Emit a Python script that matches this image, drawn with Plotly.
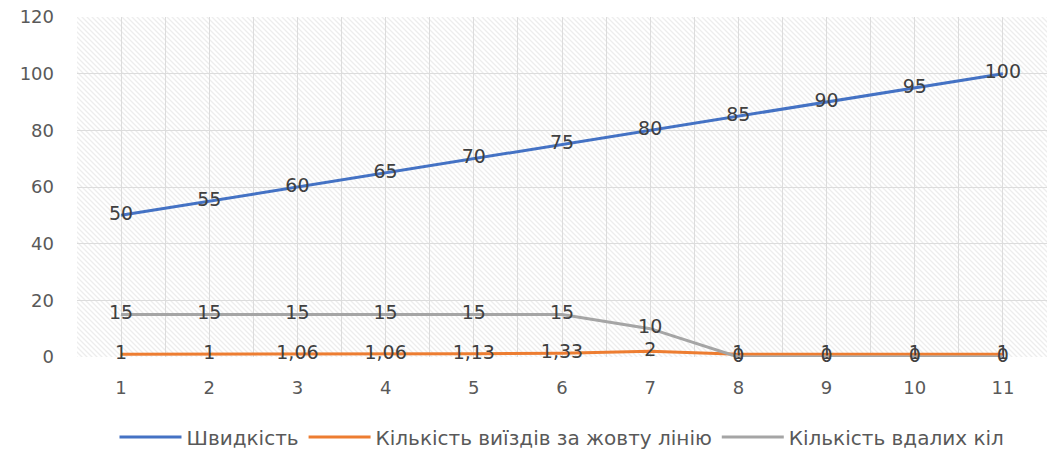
import base64
import plotly.graph_objects as go

categories = [1, 2, 3, 4, 5, 6, 7, 8, 9, 10, 11]
speed = [50, 55, 60, 65, 70, 75, 80, 85, 90, 95, 100]
yellow_exits = [1, 1, 1.06, 1.06, 1.13, 1.33, 2, 1, 1, 1, 1]
good_laps = [15, 15, 15, 15, 15, 15, 10, 0, 0, 0, 0]
y_ticks = [0, 20, 40, 60, 80, 100, 120]

names = ["Швидкість", "Кількість виїздів за жовту лінію", "Кількість вдалих кіл"]
colors = ["#4472C4", "#ED7D31", "#A5A5A5"]

def fmt(v):
    return ("%g" % v).replace(".", ",")

W, H = 1050, 453
ML, MR, MT, MB = 77, 3, 17, 96
PW, PH = W - ML - MR, H - MT - MB

# diagonal hatch pattern for plot area (drawn beneath gridlines)
svg = (
    f'<svg xmlns="http://www.w3.org/2000/svg" width="{PW}" height="{PH}" '
    f'viewBox="0 0 {PW} {PH}" preserveAspectRatio="none">'
    '<defs><pattern id="p" width="5" height="5" patternUnits="userSpaceOnUse">'
    '<path d="M-1,-1 L6,6 M-1,4 L1,6 M4,-1 L6,1" stroke="#EDEDED" stroke-width="1.3"/>'
    '</pattern></defs>'
    f'<rect width="{PW}" height="{PH}" fill="#FFFFFF"/>'
    f'<rect width="{PW}" height="{PH}" fill="url(#p)"/></svg>'
)
svg_uri = "data:image/svg+xml;base64," + base64.b64encode(svg.encode()).decode()

fig = go.Figure()

label_font = dict(family="DejaVu Sans, sans-serif", size=19, color="#404040")

for vals, name, col in [(speed, names[0], colors[0]),
                        (yellow_exits, names[1], colors[1]),
                        (good_laps, names[2], colors[2])]:
    fig.add_trace(go.Scatter(
        x=categories, y=vals, name=name, mode="lines+text",
        line=dict(color=col, width=3),
        text=[fmt(v) for v in vals], textposition="middle center",
        textfont=label_font, cliponaxis=False))

fig.add_layout_image(dict(
    source=svg_uri, xref="x", yref="y", x=0.5, y=120, sizex=11, sizey=120,
    xanchor="left", yanchor="top", sizing="stretch", layer="below"))

fig.update_layout(
    width=W, height=H,
    margin=dict(l=ML, r=MR, t=MT, b=MB, autoexpand=False),
    paper_bgcolor="white", plot_bgcolor="rgba(0,0,0,0)",
    font=dict(family="DejaVu Sans, sans-serif", color="#595959"),
    showlegend=True,
    legend=dict(orientation="h", x=0.5, xanchor="center", y=-0.235, yanchor="middle",
                font=dict(size=20, color="#595959"), itemwidth=62,
                traceorder="normal"),
)
fig.update_xaxes(
    range=[0.5, 11.5], tickmode="array", tickvals=categories,
    ticktext=[str(c) for c in categories],
    showgrid=True, gridcolor="#DCDCDC", gridwidth=1,
    minor=dict(showgrid=True, gridcolor="#DCDCDC", dtick=1, tick0=0.5),
    zeroline=False, showline=False, ticks="", ticklabelstandoff=18,
    tickfont=dict(size=18, color="#595959"))
fig.update_yaxes(
    range=[0, 120], tickmode="array", tickvals=y_ticks,
    showgrid=True, gridcolor="#DCDCDC", gridwidth=1,
    zeroline=False, showline=False, ticks="", ticklabelstandoff=22,
    tickfont=dict(size=18, color="#595959"))

fig.write_html("out.html")
